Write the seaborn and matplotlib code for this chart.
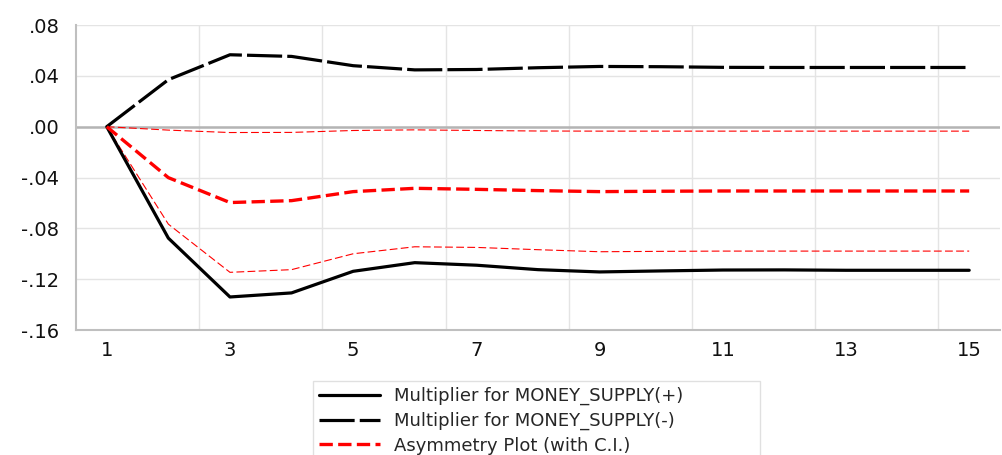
import numpy as np
import pandas as pd
import matplotlib
matplotlib.use("Agg")
import matplotlib.pyplot as plt
from matplotlib.ticker import FixedLocator, FuncFormatter
import seaborn as sns

# Dynamic multipliers over 15 periods
periods = list(range(1, 16))
mult_pos = [0.0, -0.0877, -0.1340, -0.1308, -0.1138, -0.1070, -0.1090, -0.1125,
            -0.1143, -0.1135, -0.1128, -0.1127, -0.1130, -0.1130, -0.1130]
mult_neg = [0.0, 0.0370, 0.0566, 0.0553, 0.0480, 0.0447, 0.0450, 0.0464,
            0.0474, 0.0472, 0.0467, 0.0466, 0.0466, 0.0466, 0.0466]
asym = [0.0, -0.0401, -0.0597, -0.0582, -0.0511, -0.0485, -0.0493, -0.0503,
        -0.0511, -0.0508, -0.0506, -0.0506, -0.0506, -0.0506, -0.0506]
ci_upper = [0.0, -0.0027, -0.0046, -0.0045, -0.0030, -0.0025, -0.0030, -0.0034,
            -0.0035, -0.0035, -0.0035, -0.0035, -0.0035, -0.0035, -0.0035]
ci_lower = [0.0, -0.0767, -0.1146, -0.1125, -0.1000, -0.0945, -0.0950, -0.0968,
            -0.0984, -0.0981, -0.0979, -0.0979, -0.0979, -0.0979, -0.0979]

labels = ["Multiplier for MONEY_SUPPLY(+)",
          "Multiplier for MONEY_SUPPLY(-)",
          "Asymmetry Plot (with C.I.)"]
y_ticks = [0.08, 0.04, 0.00, -0.04, -0.08, -0.12, -0.16]

sns.set_style("white")
plt.rcParams["font.family"] = ["DejaVu Sans"]

fig = plt.figure(figsize=(10.02, 4.55), dpi=100)
ax = fig.add_axes([0.0758, 0.2747, 0.9222, 0.6703])

df = pd.DataFrame({"period": periods, "pos": mult_pos, "neg": mult_neg,
                   "asym": asym, "up": ci_upper, "lo": ci_lower})

# Confidence bands (thin red dashes)
for col in ["up", "lo"]:
    sns.lineplot(data=df, x="period", y=col, ax=ax, color="#FF0000",
                 linewidth=0.8, dashes=False, legend=False)
for line in ax.lines:
    line.set_dashes((7, 3))

sns.lineplot(data=df, x="period", y="pos", ax=ax, color="black",
             linewidth=2.3, label=labels[0])
l_neg = sns.lineplot(data=df, x="period", y="neg", ax=ax, color="black",
                     linewidth=2.3, label=labels[1]).lines[-1]
l_neg.set_dashes((11, 1.6))
l_asym = sns.lineplot(data=df, x="period", y="asym", ax=ax, color="#FF0000",
                      linewidth=2.4, label=labels[2]).lines[-1]
l_asym.set_dashes((4, 1.6))

# Zero reference line
ax.axhline(0, color="#B4B4B4", linewidth=1.8, zorder=1)

ax.set_xlim(0.5, 15.5)
ax.set_ylim(-0.16, 0.08)
ax.xaxis.set_major_locator(FixedLocator(periods[::2]))
ax.xaxis.set_minor_locator(FixedLocator(np.arange(2.5, 15, 2)))
ax.yaxis.set_major_locator(FixedLocator(y_ticks))
ax.yaxis.set_major_formatter(FuncFormatter(
    lambda v, _: ("-" if v < -1e-9 else "") + f"{abs(v):.2f}".lstrip("0")))
ax.grid(False)
ax.grid(which="major", axis="y", color="#E4E4E4", linewidth=1.0)
ax.grid(which="minor", axis="x", color="#E4E4E4", linewidth=1.0)
ax.set_axisbelow(True)
ax.tick_params(which="both", length=0)
ax.tick_params(axis="y", labelsize=14, pad=12, labelcolor="#111111")
ax.tick_params(axis="x", labelsize=14, pad=8, labelcolor="#111111")
ax.set_xlabel("")
ax.set_ylabel("")

for side in ["top", "right"]:
    ax.spines[side].set_visible(False)
for side in ["left", "bottom"]:
    ax.spines[side].set_color("#BFBFBF")
    ax.spines[side].set_linewidth(1.5)

leg = ax.legend(loc="upper left",
                bbox_to_anchor=(313 / 1002, 69 / 455, 447 / 1002, 0.01),
                bbox_transform=fig.transFigure, mode="expand",
                fontsize=13, frameon=True, fancybox=False,
                handlelength=3.4, handletextpad=0.75,
                borderpad=0.32, labelspacing=0.36, borderaxespad=0)
leg.get_frame().set_edgecolor("#D9D9D9")
leg.get_frame().set_linewidth(1.0)

fig.savefig("out.png", dpi=100)
